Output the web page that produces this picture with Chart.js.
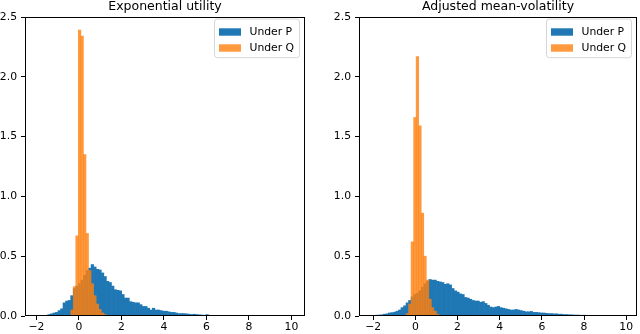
<!DOCTYPE html>
<html><head><meta charset="utf-8">
<script src="https://cdn.jsdelivr.net/npm/chart.js@4/dist/chart.umd.min.js"></script>
<style>
html,body{margin:0;padding:0;background:#fff;width:640px;height:334px;overflow:hidden}
#wrap{position:relative;width:640px;height:334px}
canvas{position:absolute;top:0}
#c1{left:0}
#c2{left:320px}
</style></head><body>
<div id="wrap"><canvas id="c1" width="320" height="334"></canvas><canvas id="c2" width="320" height="334"></canvas></div>
<script>
// ---- data ----
const titles = ["Exponential utility", "Adjusted mean-volatility"];
const seriesNames = ["Under P", "Under Q"];
const binWidth = 0.12;
const binStartLeft = -1.95;
const binStartRight = -2.0;
const xTicks = [-2, 0, 2, 4, 6, 8, 10];
const xTickLabels = ["\u22122", "0", "2", "4", "6", "8", "10"];
const yTicks = [0, 0.5, 1, 1.5, 2, 2.5];
const yTickLabels = ["0.0", "0.5", "1.0", "1.5", "2.0", "2.5"];

// Exponential utility, density under P (100 bins)
const expP = [
  0, 0.002, 0.003, 0.006, 0.012, 0.018, 0.025, 0.03, 0.045, 0.06,
  0.11, 0.125, 0.13, 0.17, 0.23, 0.25, 0.27, 0.30, 0.34, 0.38,
  0.40, 0.43, 0.41, 0.39, 0.385, 0.36, 0.33, 0.29, 0.28, 0.25,
  0.22, 0.215, 0.21, 0.18, 0.15, 0.15, 0.12, 0.115, 0.11, 0.11,
  0.095, 0.08, 0.08, 0.065, 0.05, 0.065, 0.05, 0.05, 0.045, 0.04,
  0.04, 0.035, 0.03, 0.03, 0.025, 0.02, 0.02, 0.02, 0.018, 0.015,
  0.012, 0.015, 0.012, 0.01, 0.008, 0.006, 0.012, 0.006, 0.005, 0.004,
  0.005, 0.003, 0.004, 0.003, 0.002, 0.003, 0.002, 0.002, 0.001, 0.002,
  0.001, 0.001, 0.002, 0.001, 0.001, 0.001, 0, 0.001, 0, 0.001,
  0, 0, 0, 0, 0, 0, 0, 0, 0, 0
];
// Exponential utility, density under Q
const expQ = [
  0, 0, 0, 0, 0, 0, 0, 0, 0, 0,
  0, 0, 0.005, 0.05, 0.245, 0.67, 2.39, 2.34, 1.35, 0.69,
  0.38, 0.27, 0.17, 0.10, 0.055, 0.025, 0.012, 0.004, 0.002, 0,
  0, 0, 0, 0, 0, 0, 0, 0, 0, 0,
  0, 0, 0, 0, 0, 0, 0, 0, 0, 0,
  0, 0, 0, 0, 0, 0, 0, 0, 0, 0,
  0, 0, 0, 0, 0, 0, 0, 0, 0, 0,
  0, 0, 0, 0, 0, 0, 0, 0, 0, 0,
  0, 0, 0, 0, 0, 0, 0, 0, 0, 0,
  0, 0, 0, 0, 0, 0, 0, 0, 0, 0
];
// Adjusted mean-volatility, density under P
const amvP = [
  0.005, 0.007, 0.008, 0.01, 0.015, 0.018, 0.025, 0.028, 0.032, 0.04,
  0.05, 0.07, 0.085, 0.11, 0.13, 0.16, 0.18, 0.19, 0.21, 0.24,
  0.27, 0.29, 0.305, 0.30, 0.30, 0.29, 0.285, 0.28, 0.265, 0.27,
  0.26, 0.23, 0.21, 0.20, 0.185, 0.18, 0.155, 0.15, 0.14, 0.13,
  0.125, 0.125, 0.115, 0.12, 0.105, 0.09, 0.075, 0.07, 0.075, 0.08,
  0.07, 0.065, 0.06, 0.055, 0.05, 0.05, 0.055, 0.05, 0.045, 0.04,
  0.035, 0.035, 0.038, 0.03, 0.03, 0.028, 0.025, 0.025, 0.022, 0.02,
  0.02, 0.018, 0.018, 0.015, 0.015, 0.012, 0.012, 0.01, 0.01, 0.008,
  0.008, 0.007, 0.006, 0.007, 0.005, 0.004, 0.004, 0.003, 0.003, 0.002,
  0.002, 0.002, 0.001, 0.002, 0.001, 0.001, 0.001, 0, 0.001, 0
];
// Adjusted mean-volatility, density under Q
const amvQ = [
  0, 0, 0, 0, 0, 0, 0, 0, 0, 0,
  0, 0, 0.005, 0.02, 0.10, 0.62, 1.66, 2.17, 1.59, 0.86,
  0.50, 0.30, 0.14, 0.07, 0.04, 0.015, 0.005, 0, 0, 0,
  0, 0, 0, 0, 0, 0, 0, 0, 0, 0,
  0, 0, 0, 0, 0, 0, 0, 0, 0, 0,
  0, 0, 0, 0, 0, 0, 0, 0, 0, 0,
  0, 0, 0, 0, 0, 0, 0, 0, 0, 0,
  0, 0, 0, 0, 0, 0, 0, 0, 0, 0,
  0, 0, 0, 0, 0, 0, 0, 0, 0, 0,
  0, 0, 0, 0, 0, 0, 0, 0, 0, 0
];

// ---- styling / rendering ----
const FONT = '"DejaVu Sans", "Liberation Sans", sans-serif';
Chart.defaults.font.family = FONT;
const BLUE = '#1f77b4';
const ORANGE = 'rgba(255,127,14,0.8)';

const framePlugin = {
  id: 'frame',
  afterDatasetsDraw(chart) {
    const a = chart.chartArea, ctx = chart.ctx;
    ctx.save();
    ctx.strokeStyle = '#000';
    ctx.lineWidth = 1;
    ctx.strokeRect(Math.round(a.left) + 0.5, Math.round(a.top) + 0.5,
                   Math.round(a.right) - Math.round(a.left) - 1, Math.round(a.bottom) - Math.round(a.top) - 1);
    ctx.restore();
  }
};

const legendPlugin = {
  id: 'mplLegend',
  afterDraw(chart) {
    const a = chart.chartArea, ctx = chart.ctx;
    const w = 85, h = 38.7, x = a.right - 5.5 - w, y = a.top + 2;
    const r = 3;
    ctx.save();
    ctx.beginPath();
    ctx.moveTo(x + r, y);
    ctx.lineTo(x + w - r, y); ctx.quadraticCurveTo(x + w, y, x + w, y + r);
    ctx.lineTo(x + w, y + h - r); ctx.quadraticCurveTo(x + w, y + h, x + w - r, y + h);
    ctx.lineTo(x + r, y + h); ctx.quadraticCurveTo(x, y + h, x, y + h - r);
    ctx.lineTo(x, y + r); ctx.quadraticCurveTo(x, y, x + r, y);
    ctx.closePath();
    ctx.fillStyle = 'rgba(255,255,255,0.8)';
    ctx.fill();
    ctx.strokeStyle = 'rgba(204,204,204,0.8)';
    ctx.lineWidth = 1;
    ctx.stroke();
    chart.data.datasets.forEach((ds, i) => {
      const cy = y + 13 + i * 16;
      ctx.fillStyle = ds.backgroundColor;
      ctx.fillRect(x + 4.5, cy - 3.7, 22, 7.4);
      ctx.fillStyle = '#000';
      ctx.font = '10.8px ' + FONT;
      ctx.textBaseline = 'middle';
      ctx.textAlign = 'left';
      ctx.fillText(ds.label, x + 35, cy + 0.5);
    });
    ctx.restore();
  }
};

function makeChart(id, title, pVals, qVals, binStart, xMin, xMax, yAxisWidth, padRight) {
  const centers = pVals.map((_, i) => +(binStart + binWidth * (i + 0.5)).toFixed(4));
  const pts = vals => vals.map((v, i) => ({ x: centers[i], y: v }));
  const tickStyle = { color: '#000', font: { family: FONT, size: 10.8 } };
  return new Chart(document.getElementById(id), {
    type: 'bar',
    data: {
      datasets: [
        { label: seriesNames[0], data: pts(pVals), backgroundColor: BLUE, borderWidth: 0,
          order: 1, grouped: false, barPercentage: 1, categoryPercentage: 1 },
        { label: seriesNames[1], data: pts(qVals), backgroundColor: ORANGE, borderWidth: 0,
          order: 0, grouped: false, barPercentage: 1, categoryPercentage: 1 }
      ]
    },
    options: {
      responsive: false, animation: false, devicePixelRatio: 1,
      layout: { padding: { left: 0, right: padRight, top: 0, bottom: 0 } },
      plugins: {
        legend: { display: false },
        tooltip: { enabled: false },
        title: { display: true, text: title, color: '#000', fullSize: false,
                 font: { family: FONT, size: 12.5, weight: 'normal' },
                 padding: { top: -1, bottom: 3 } }
      },
      scales: {
        x: {
          type: 'linear', min: xMin, max: xMax, offset: false,
          grid: { display: true, drawOnChartArea: false, drawTicks: true, tickLength: 4, color: '#000', offset: false },
          border: { display: false },
          ticks: Object.assign({ padding: 1, maxRotation: 0, autoSkip: false,
                   callback: v => xTickLabels[xTicks.indexOf(v)] }, tickStyle),
          afterBuildTicks: s => { s.ticks = xTicks.map(v => ({ value: v })); },
          afterFit: s => { s.height = 18; }
        },
        y: {
          min: 0, max: 2.5,
          grid: { display: true, drawOnChartArea: false, drawTicks: true, tickLength: 4, color: '#000' },
          border: { display: false },
          ticks: Object.assign({ padding: 4,
                   callback: v => yTickLabels[yTicks.indexOf(v)] }, tickStyle),
          afterBuildTicks: s => { s.ticks = yTicks.map(v => ({ value: v })); },
          afterFit: s => { s.width = yAxisWidth; }
        }
      }
    },
    plugins: [framePlugin, legendPlugin]
  });
}

makeChart('c1', titles[0], expP, expQ, binStartLeft, -2.54, 10.64, 25, 15);
makeChart('c2', titles[1], amvP, amvQ, binStartRight, -2.67, 10.51, 39, 3);
</script>
</body></html>
